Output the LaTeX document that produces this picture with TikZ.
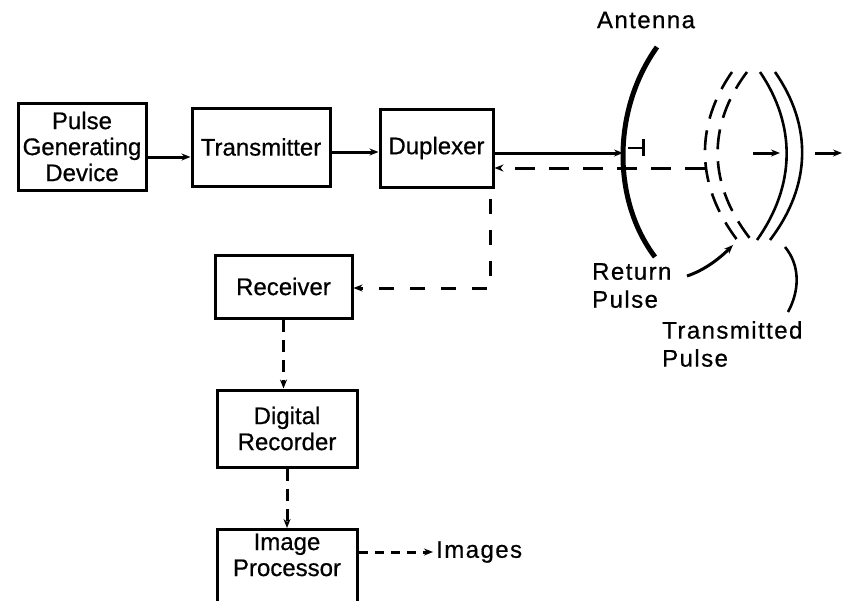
\documentclass[tikz,border=0pt]{standalone}
\usepackage{fontspec}
\setmainfont[FakeBold=0.6]{Liberation Sans}
\newfontfamily\labelfont[LetterSpace=6,FakeBold=0.6]{Liberation Sans}
\usetikzlibrary{arrows.meta}

\begin{document}
\begin{tikzpicture}[x=1pt,y=-1pt,
  blk/.style={draw, line width=3pt, inner sep=0pt, align=center,
    font=\fontsize{24}{26}\selectfont},
  lbl/.style={inner sep=0pt, align=left, font=\labelfont\fontsize{24}{28}\selectfont},
  tip/.style={-{Stealth[length=9pt,width=7pt]}},
  link/.style={line width=3pt, tip},
  dlink/.style={link, dash pattern=on 15pt off 16pt},
  dshort/.style={link, dash pattern=on 12pt off 8pt},
  dtiny/.style={link, dash pattern=on 9pt off 7pt},
  dish/.style={line width=5pt},
  wave/.style={line width=2.6pt},
  echowave/.style={line width=2.6pt, dash pattern=on 20pt off 12pt}
]
\useasboundingbox (0,0) rectangle (850,600);
\clip (0,0) rectangle (850,600);

% processing chain
\node[blk, minimum width=128pt, minimum height=87pt] (pgd) at (82,146.5) {Pulse\\Generating\\Device};
\node[blk, minimum width=138pt, minimum height=78pt] (tx) at (261,147) {Transmitter};
\node[blk, minimum width=113pt, minimum height=78pt] (dup) at (436.5,148) {Duplexer};
\node[blk, minimum width=137pt, minimum height=63pt] (rec) at (283.5,286.5) {Receiver};
\node[blk, minimum width=140pt, minimum height=77pt] (dr) at (287,428.5) {Digital\\Recorder};
\node[blk, minimum width=140pt, anchor=north, inner ysep=4pt, text depth=40pt] (ip) at (287,528) {Image\\Processor};
\node[lbl, anchor=west, inner sep=3pt] (imgs) at (433,552) {Images};

% labels around the antenna
\node[lbl, anchor=center] (ant) at (646,20) {Antenna};
\node[lbl, anchor=north west] (retl) at (592,263) {Return\\Pulse};
\node[lbl, anchor=north west] (txl) at (662,321) {Transmitted\\Pulse};

\coordinate (feed) at (623,153);
\coordinate (echo) at (705,168);
\coordinate (bend) at (490,288);

% forward path
\draw[link] (pgd.east |- 0,157) -- (tx.west |- 0,157);
\draw[link] (tx.east |- 0,152) -- (dup.west |- 0,152);
\draw[link] (dup.east |- feed) -- (feed);
\draw[line width=2.8pt] (628,148) -- (643,148);
\draw[line width=3pt] (643,139) -- (643,156);

% return path
\draw[dlink, dash pattern=on 20pt off 14pt] (echo) -- (echo -| dup.east);
\draw[dlink, shorten <=10pt] (bend |- dup.south) -- (bend) -- (bend -| rec.east);
\draw[dshort] (rec.south) -- (rec.south |- dr.north);
\draw[dshort] (dr.south) -- (dr.south |- ip.north);
\draw[dtiny] (ip.east |- imgs.west) -- (imgs.west);

% antenna dish
\draw[dish] (657,47) .. controls (612,110) and (612,200) .. (655,257);

% transmitted pulse fronts
\draw[wave] (760,72) .. controls (796,125) and (796,185) .. (757,240);
\draw[wave] (775,72) .. controls (812,125) and (812,185) .. (770,240);
\draw[link] (753,153) -- (780,153);
\draw[link] (815,153) -- (842,153);

% return pulse fronts
\draw[echowave] (732,72) .. controls (695,125) and (695,185) .. (738,241);
\draw[echowave] (747,72) .. controls (707,125) and (707,185) .. (752,241);

% label leaders
\draw[link] (687,276) .. controls (705,270) and (720,258) .. (733,245);
\draw[wave] (785,247) .. controls (800,265) and (800,290) .. (788,312);
\end{tikzpicture}
\end{document}
